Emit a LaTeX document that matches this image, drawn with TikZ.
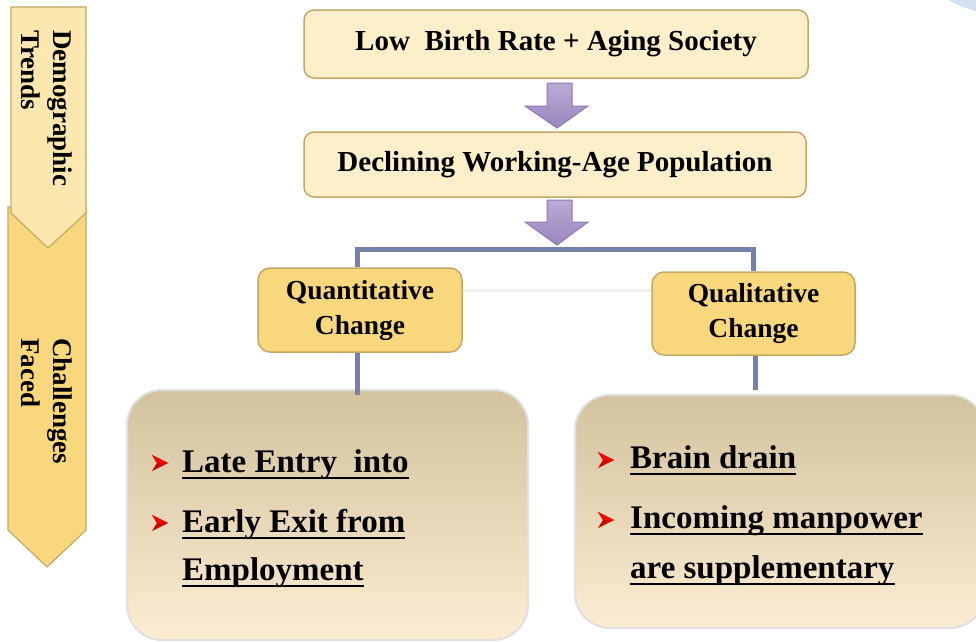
\documentclass[tikz,border=0pt]{standalone}
\usepackage{fontspec}
\setmainfont{Liberation Serif}
\definecolor{cream}{HTML}{FCEFC9}
\definecolor{gold}{HTML}{F9D77C}
\definecolor{chevlight}{HTML}{FCE7AE}
\definecolor{edge}{HTML}{C4A867}
\definecolor{conn}{HTML}{7680AC}
\definecolor{btop}{HTML}{D2C29E}
\definecolor{bmid}{HTML}{F0E6CD}
\definecolor{bbot}{HTML}{FCECD2}
\definecolor{ptop}{HTML}{BBAAD5}
\definecolor{pbot}{HTML}{9A85BE}
\definecolor{pedge}{HTML}{8D7AB4}
\definecolor{bluish}{HTML}{D3E0F2}
\newcommand\myul[1]{\setbox0\hbox{#1}\rlap{\rule[-7pt]{\wd0}{2.5pt}}\box0}
\tikzset{
  topbox/.style={draw=edge, line width=1.5pt, fill=cream, rounded corners=10pt,
    inner sep=0pt, font=\bfseries\fontsize{29}{34}\selectfont},
  midbox/.style={draw=edge, line width=1.5pt, fill=gold, rounded corners=12pt,
    inner sep=0pt, align=center, font=\bfseries\fontsize{27.5}{35}\selectfont},
  bigbox/.style={draw=black!12, line width=2pt, top color=btop, middle color=bmid, bottom color=bbot,
    rounded corners=35pt, inner sep=0pt},
  blocktext/.style={inner sep=0pt, anchor=base west, font=\bfseries\fontsize{33}{40}\selectfont},
  sidetext/.style={rotate=-90, anchor=west, align=left, inner sep=0pt,
    font=\bfseries\fontsize{27}{32}\selectfont},
  parrow/.style={draw=pedge, line width=1pt, top color=ptop, bottom color=pbot},
  connline/.style={draw=conn, line width=5pt},
  bulletpic/.pic={
    \fill[red!80!black] (-8,-8) -- (8,0) -- (-8,8) -- (-3,0) -- cycle;
    \fill[red] (-8,-8) -- (8,0) -- (-3,0) -- cycle;
  }
}
\begin{document}
\begin{tikzpicture}[x=1pt,y=-1pt]
\useasboundingbox (0,0) rectangle (976,641);
% decorative corner shape
\fill[bluish] (1010,-30) ellipse [x radius=82, y radius=45];
% side chevrons
\draw[draw=edge, line width=1.2pt, fill=gold] (8,207) -- (86,207) -- (86,530) -- (47,567) -- (8,530) -- cycle;
\draw[draw=edge, line width=1.2pt, fill=chevlight] (11,7) -- (86,7) -- (86,213) -- (48,248) -- (11,213) -- cycle;
\node[sidetext] (dt) at (47,30) {Demographic\\Trends};
\node[sidetext] (cf) at (47,338) {Challenges\\Faced};
% top boxes
\node[topbox, minimum width=504pt, minimum height=68pt] (lbr) at (556,44) {Low\ \ Birth Rate + Aging Society};
\node[topbox, minimum width=502pt, minimum height=65pt] (dwp) at (555,164.5) {Declining Working-Age Population};
% block arrows
\draw[parrow] (547,83) -- (572,83) -- (572,106) -- (588,106) -- (557,128) -- (525,106) -- (547,106) -- cycle;
\draw[parrow] (547,200) -- (572,200) -- (572,222) -- (588,222) -- (557,245) -- (525,222) -- (547,222) -- cycle;
% change boxes
\node[midbox, minimum width=204pt, minimum height=84pt] (qn) at (360,310) {Quantitative\\Change};
\node[midbox, minimum width=203pt, minimum height=83pt] (ql) at (753.5,313.5) {Qualitative\\Change};
\draw[black!5, line width=3pt] (qn.east |- 0,290) -- (ql.west |- 0,290);
\coordinate (split) at (556,249);
\draw[connline] (qn.north -| 357,0) |- (split) -| (ql.north);
% bottom boxes
\node[bigbox, minimum width=401pt, minimum height=250pt] (b1) at (327.5,515) {};
\node[bigbox, minimum width=410pt, minimum height=233pt] (b2) at (780,511.5) {};
\draw[connline] (qn.south -| 357,0) -- (357,395);
\draw[connline] (ql.south -| 755,0) -- (755,390);
% left list
\node[blocktext] (t1) at (182,472) {\myul{Late Entry\ \ into}};
\node[blocktext] (t2) at (182,532) {\myul{Early Exit from}};
\node[blocktext] (t3) at (182,580) {\myul{Employment}};
\path (160,463) pic {bulletpic};
\path (160,523) pic {bulletpic};
% right list
\node[blocktext] (r1) at (630,468) {\myul{Brain drain}};
\node[blocktext] (r2) at (630,528) {\myul{Incoming manpower}};
\node[blocktext] (r3) at (630,578) {\myul{are supplementary}};
\path (606,460) pic {bulletpic};
\path (606,520) pic {bulletpic};
\end{tikzpicture}
\end{document}
